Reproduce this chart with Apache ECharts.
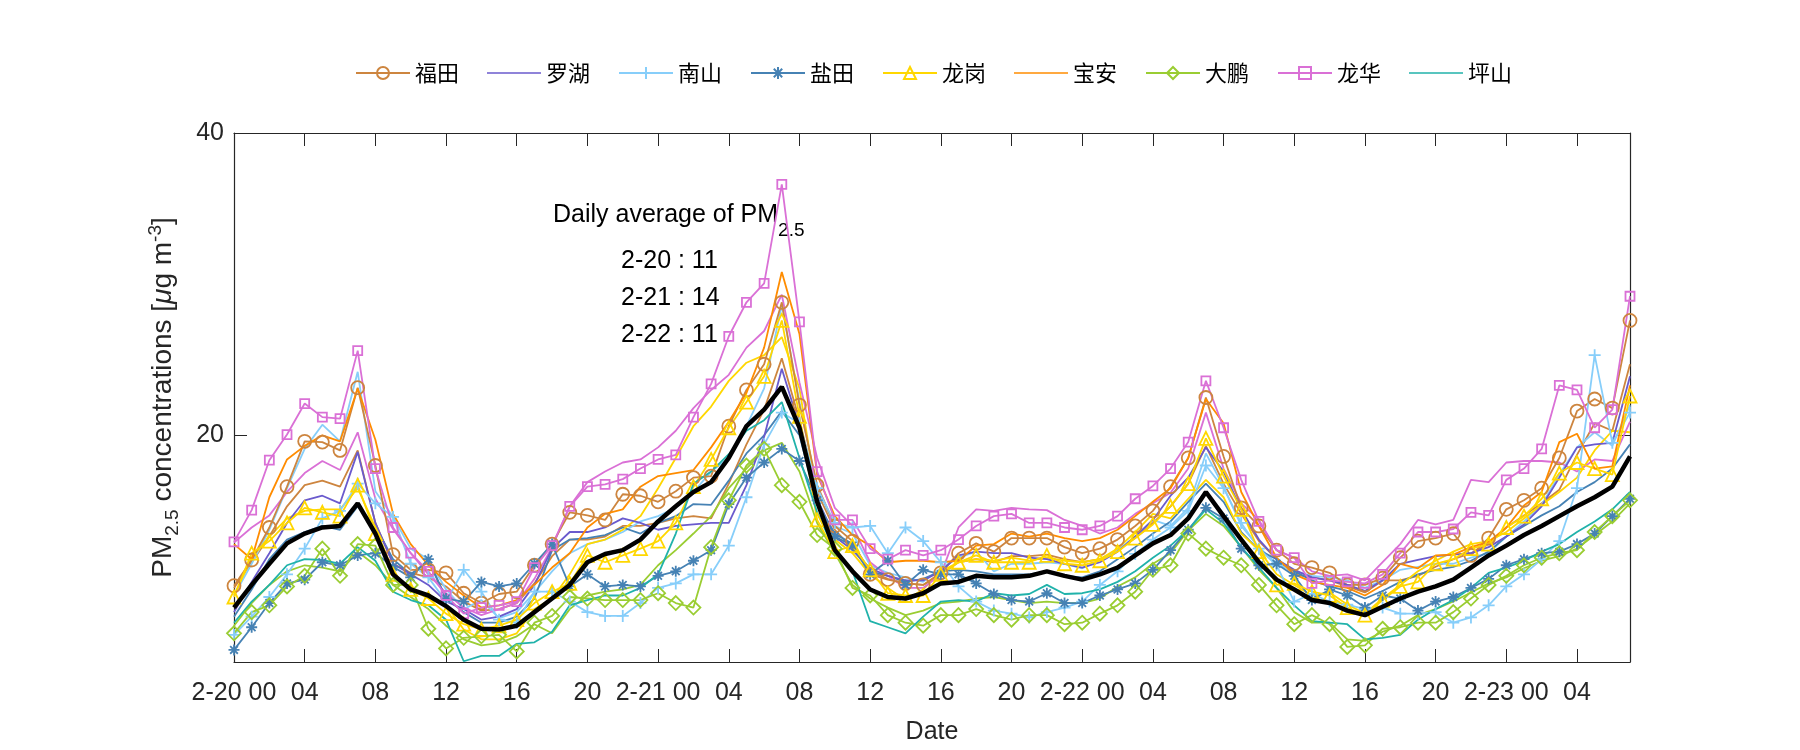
<!DOCTYPE html>
<html>
<head>
<meta charset="utf-8">
<script src="https://cdn.jsdelivr.net/npm/echarts@6/dist/echarts.min.js"></script>
<style>
html,body{margin:0;padding:0;background:#fff;}
#chart{width:1800px;height:750px;}
</style>
</head>
<body>
<div id="chart"></div>
<script>
// ---- categories / tick labels ----
const days = ['2-20', '2-21', '2-22', '2-23'];
const hoursPerDay = ['00','01','02','03','04','05','06','07','08','09','10','11','12','13','14','15','16','17','18','19','20','21','22','23'];
const nPoints = 80;
const yTicks = [20, 40];
const dailyDates = ['2-20', '2-21', '2-22'];
const dailyAvg = [11, 14, 11];

// ---- series values (hourly, 2-20 00 .. 2-23 07) ----
const futian = [10.05,11.75,13.9,16.6,19.6,19.55,19.0,23.15,18.0,12.1,11.1,11.1,10.9,9.55,8.9,9.5,9.65,11.4,12.8,14.9,14.7,14.4,16.1,16.0,15.6,16.3,17.2,17.3,20.6,23.0,24.7,28.8,22.0,16.7,14.0,13.0,10.8,10.45,10.2,10.1,10.9,12.2,12.85,12.3,13.2,13.2,13.2,12.6,12.2,12.5,13.1,14.0,15.0,16.6,18.5,22.5,18.6,15.2,14.0,12.4,11.5,11.25,10.9,10.1,10.1,10.55,11.9,13.0,13.2,13.5,12.05,13.2,15.1,15.7,16.5,18.5,21.6,22.4,21.8,27.6];
const futian2 = [9.9,11.6,13.3,15.3,16.7,17.0,16.6,19.0,14.2,11.5,10.9,10.6,10.0,9.0,8.4,8.5,8.9,10.2,12.0,13.1,13.1,13.3,14.0,14.0,14.2,14.5,14.65,14.5,16.8,19.4,21.7,25.1,21.0,16.25,13.75,12.5,11.0,10.5,10.2,10.1,10.8,11.6,11.8,11.6,12.0,12.0,12.1,11.8,11.6,11.8,12.4,13.2,14.2,15.3,16.8,19.3,16.8,14.8,13.0,11.8,10.8,10.6,10.4,10.0,9.6,10.4,10.4,10.7,11.3,11.8,12.2,12.8,13.9,14.7,15.5,16.4,18.7,20.8,20.3,24.7];
const luohu = [8.3,10.3,12.2,14.2,15.7,16.0,15.5,18.9,14.2,11.5,10.8,10.1,9.0,8.5,7.8,8.0,8.5,10.1,12.5,13.6,13.6,13.9,14.5,14.2,13.75,14.0,14.1,14.2,14.2,16.7,19.9,24.4,20.6,15.8,13.3,12.4,11.2,10.7,10.4,10.4,11.0,12.05,12.3,12.2,12.2,11.9,11.8,11.5,11.25,11.6,12.3,13.3,14.4,16.0,17.2,19.2,17.6,15.1,13.1,11.8,11.1,10.6,10.4,10.1,9.7,10.4,11.5,11.75,12.0,12.1,12.2,12.6,13.3,14.1,15.3,17.2,19.2,19.4,19.5,23.9];
const nanshan = [6.8,8.0,9.3,10.8,12.5,14.5,15.0,16.8,15.5,14.6,11.5,10.6,9.0,11.1,9.65,7.8,7.6,9.65,9.65,9.0,8.3,8.05,8.05,8.9,9.9,10.2,10.8,10.8,12.7,15.9,19.4,21.5,20.8,16.5,14.2,13.9,14.0,12.2,13.9,13.0,11.6,10.0,9.0,8.4,8.2,7.95,8.3,8.6,9.0,10.1,11.0,12.15,13.1,13.9,15.0,18.0,16.5,14.2,12.5,11.4,9.0,9.5,9.0,8.8,8.5,8.6,8.2,8.2,8.3,7.6,7.95,8.75,10.0,10.8,11.8,13.0,16.5,25.3,19.5,21.5];
const nanshan2 = [9.4,11.5,13.75,16.5,19.1,20.7,19.6,24.2,16.3,14.6,12.5,11.8,9.8,8.5,9.1,7.9,8.3,9.6,11.0,12.2,12.8,13.1,13.6,14.3,14.65,15.2,16.25,17.6,18.5,20.6,23.1,28.6,22.2,16.5,14.0,13.5,11.4,10.9,10.6,10.3,11.2,11.9,12.3,11.0,11.5,11.5,11.6,11.5,11.2,11.7,12.4,13.3,14.4,14.0,15.2,18.8,16.6,14.0,12.6,11.5,11.0,10.7,10.6,10.4,9.9,10.4,11.1,11.3,11.5,11.5,11.9,12.2,13.3,14.3,15.4,17.4,19.2,20.2,19.3,22.0];
const yantian = [5.8,7.3,8.9,10.2,10.45,11.6,11.4,12.05,12.2,11.3,10.6,11.8,9.2,9.0,10.3,10.0,10.2,11.5,12.8,10.0,10.8,10.0,10.1,10.0,10.7,11.0,11.7,12.4,15.45,17.2,18.2,19.1,18.3,15.7,13.3,12.7,10.8,11.7,10.1,11.1,10.8,10.8,10.2,9.5,9.1,9.0,9.55,8.9,8.9,9.4,9.8,10.2,11.1,12.4,13.75,15.2,14.5,12.5,11.4,11.5,10.7,9.1,9.8,9.4,8.6,9.4,9.2,8.4,9.0,9.3,9.9,10.5,11.4,11.8,12.2,12.3,12.8,13.5,14.65,15.8];
const yantian2 = [8.0,9.8,11.8,13.1,13.6,14.0,13.75,15.3,14.0,11.8,10.8,11.7,9.2,8.3,7.6,7.6,8.0,9.2,12.4,13.1,13.2,13.4,13.9,13.5,14.2,14.65,15.45,15.4,17.0,18.8,20.0,21.6,20.0,15.5,13.5,12.8,11.0,10.7,10.3,10.5,11.0,11.1,11.0,10.8,10.8,10.8,11.0,10.7,10.6,11.0,11.8,12.6,13.5,14.3,15.6,16.8,15.6,13.6,12.4,11.8,11.0,10.4,10.0,9.7,9.2,9.7,10.3,10.8,11.1,11.3,11.7,12.3,13.3,14.0,14.7,15.3,16.25,16.9,17.8,19.4];
const longgang = [9.3,12.2,13.0,14.2,15.2,14.9,14.65,16.7,13.5,10.8,9.8,9.2,8.2,7.5,7.15,7.4,7.8,8.9,9.65,10.2,12.05,11.6,12.05,12.5,13.0,14.2,16.6,18.4,20.5,22.2,23.9,27.6,21.25,14.4,12.3,12.7,11.1,9.55,9.4,9.4,10.8,11.6,12.05,11.6,11.6,11.6,12.05,11.5,11.4,11.7,12.3,13.2,14.1,15.3,16.8,19.8,17.3,15.1,12.3,10.1,10.2,9.65,9.4,8.6,8.1,9.1,10.0,10.3,11.5,11.8,12.5,12.8,13.9,14.65,15.8,17.5,18.2,17.8,17.4,22.6];
const longgang2 = [9.4,11.9,13.3,14.5,15.0,15.1,15.1,16.5,13.9,11.0,9.65,9.4,8.75,7.15,6.5,6.5,6.9,8.5,9.2,10.8,12.8,13.1,13.75,14.65,16.5,18.5,20.6,21.9,23.6,24.8,25.3,26.5,23.1,15.8,13.1,12.2,10.8,9.9,9.1,9.8,11.0,11.6,11.8,11.7,11.9,11.7,11.9,11.7,11.6,11.8,12.5,13.6,14.8,14.5,15.8,17.05,15.9,13.5,12.4,10.8,10.1,9.4,9.6,8.8,8.2,9.2,10.1,11.0,11.7,12.3,12.8,13.0,13.6,14.5,15.4,16.25,17.2,19.0,20.3,20.2];
const baoan = [12.8,11.8,15.9,18.4,19.3,20.0,19.6,23.1,19.7,14.8,12.8,11.4,10.3,9.4,8.6,8.75,9.1,10.1,11.25,12.2,13.9,14.8,15.1,16.6,17.3,17.5,17.7,19.2,20.9,22.8,25.8,30.8,26.7,17.4,14.65,13.4,12.7,11.6,11.7,11.7,11.6,11.7,12.7,12.8,13.5,13.3,13.5,13.2,13.0,13.2,13.75,14.65,15.6,16.5,18.5,22.4,20.8,16.25,14.0,11.9,10.8,10.3,10.1,9.9,9.4,10.1,11.5,11.2,12.05,12.1,12.6,12.95,13.9,15.35,16.25,19.55,20.1,17.8,17.95,23.3];
const dapeng = [6.9,8.3,8.75,10.0,10.7,12.5,10.7,12.8,12.7,10.1,10.1,7.2,5.9,6.6,6.7,6.8,5.7,7.6,8.05,9.3,9.2,9.1,9.1,9.1,9.55,8.9,8.6,12.6,15.7,18.0,19.1,16.7,15.6,13.4,12.5,9.9,9.4,8.1,7.6,7.4,8.1,8.1,8.5,8.1,7.8,8.1,8.1,7.5,7.6,8.2,8.75,9.65,11.1,11.4,13.5,12.5,11.9,11.4,10.1,8.75,7.5,8.1,7.5,6.0,6.1,7.2,7.3,7.6,7.6,8.3,9.2,10.1,10.7,11.4,11.9,12.2,12.4,13.6,14.65,15.7];
const dapeng2 = [7.4,8.9,10.1,11.0,11.4,11.25,11.0,12.3,11.4,10.1,9.3,8.5,7.4,6.5,6.1,6.25,6.7,7.5,6.9,8.5,9.4,9.65,9.8,10.1,11.4,12.4,13.5,14.65,16.5,17.8,19.0,19.5,17.6,14.2,12.2,10.1,9.2,8.6,8.1,8.4,8.9,9.0,9.2,9.3,9.1,8.9,9.0,8.9,8.9,9.2,10.0,10.6,11.5,12.2,13.7,14.8,14.0,12.6,11.1,9.9,8.3,7.6,7.6,6.5,6.4,7.0,7.4,8.1,8.5,9.0,9.6,10.2,10.6,11.2,11.7,12.0,12.5,13.4,14.3,15.5];
const longhua = [12.95,15.05,18.35,20.05,22.1,21.2,21.1,25.6,17.8,13.9,12.2,11.0,9.4,8.2,8.6,8.75,9.0,11.25,12.7,15.3,16.6,16.75,17.1,17.8,18.4,18.7,21.2,23.4,26.55,28.8,30.05,36.6,27.5,17.6,14.4,14.4,12.5,11.8,12.4,12.05,12.4,13.1,14.0,14.65,14.8,14.2,14.2,13.9,13.75,14.0,14.65,15.8,16.65,17.8,19.55,23.6,20.5,17.05,14.3,12.4,11.9,10.2,10.4,10.3,10.2,10.8,12.2,13.6,13.6,13.8,14.9,14.7,17.05,17.8,19.1,23.3,23.0,20.5,21.7,29.2];
const longhua2 = [12.9,13.9,14.7,16.25,17.5,18.3,17.7,20.2,15.8,13.8,12.2,10.8,9.55,8.6,8.1,8.5,8.9,10.5,12.6,15.3,16.9,17.6,18.2,18.4,19.2,20.3,21.8,23.0,24.0,25.8,26.9,29.3,23.5,18.5,15.2,14.0,11.6,10.7,9.9,9.9,10.8,13.9,15.1,15.0,15.2,15.1,15.05,14.4,14.0,13.5,13.9,14.8,15.5,16.2,17.8,21.5,17.8,15.5,14.4,12.4,11.9,11.0,10.7,10.8,10.4,11.6,12.8,14.4,14.1,14.4,17.05,16.9,18.2,18.3,18.3,18.2,17.6,18.4,18.3,20.9];
const pingshan = [7.6,9.0,10.1,11.4,11.8,11.75,11.5,12.6,11.7,9.65,9.1,8.75,7.8,5.05,5.4,5.4,6.2,6.3,7.0,8.75,9.1,9.4,9.4,9.9,10.8,13.5,16.8,17.6,18.75,20.3,21.0,22.2,18.5,14.9,12.4,11.0,7.7,7.3,6.9,8.0,9.0,9.1,9.0,9.55,9.4,9.5,10.1,9.5,9.55,9.8,10.3,11.0,11.9,12.7,13.75,15.1,14.2,12.6,11.25,9.9,8.75,7.7,7.6,7.5,6.5,6.6,6.8,7.8,8.5,9.1,9.9,10.9,11.25,11.7,12.3,12.8,13.6,14.3,15.1,16.25];
const meanAll = [8.6,10.1,11.5,12.85,13.5,13.9,14.0,15.5,13.5,10.8,9.8,9.4,8.7,7.8,7.2,7.15,7.4,8.3,9.2,10.1,11.6,12.15,12.4,13.1,14.3,15.3,16.25,16.9,18.5,20.6,21.7,23.2,20.5,15.6,12.4,11.0,9.8,9.3,9.2,9.55,10.2,10.3,10.7,10.6,10.6,10.7,11.0,10.7,10.45,10.8,11.25,12.05,12.85,13.4,14.5,16.25,14.65,13.1,11.6,10.45,9.8,9.1,8.9,8.4,8.1,8.65,9.2,9.65,10.0,10.45,11.25,12.05,12.7,13.4,14.0,14.65,15.3,15.9,16.6,18.6];

const names = ['福田', '罗湖', '南山', '盐田', '龙岗', '宝安', '大鹏', '龙华', '坪山'];
const plainNames = ['罗湖', '宝安', '坪山'];
const colors = {
  '福田': '#CD853F', '罗湖': '#6A5ACD', '南山': '#87CEFA', '盐田': '#4682B4', '龙岗': '#FFD700',
  '宝安': '#FF8C00', '大鹏': '#9ACD32', '龙华': '#DA70D6', '坪山': '#20B2AA'
};

const FONT = 'Liberation Sans, Arial, sans-serif';
const CJK = 'Noto Sans CJK SC, sans-serif';

const categories = [];
for (let i = 0; i < nPoints; i++) {
  const d = days[Math.floor(i / 24)];
  categories.push(d + ' ' + hoursPerDay[i % 24]);
}

const PLUS = 'path://M0,5L10,5M5,0L5,10';
const STAR = 'path://M0,5L10,5M5,0L5,10M1.5,1.5L8.5,8.5M1.5,8.5L8.5,1.5';
const LINE_ICON = 'path://M0,0H100V3H0Z';

function lineSeries(name, data, color, symbol, size, opts) {
  opts = opts || {};
  const hasSym = !!symbol;
  return {
    type: 'line', name: name, data: data,
    xAxisIndex: 0, yAxisIndex: 0,
    symbol: symbol || 'none', symbolSize: size || 0,
    showSymbol: hasSym, showAllSymbol: true,
    lineStyle: { color: color, width: opts.width || 1.8 },
    itemStyle: hasSym
      ? { color: 'rgba(255,255,255,0)', borderColor: color, borderWidth: 1.8 }
      : { color: color, borderWidth: 0 },
    emphasis: { disabled: true },
    z: opts.z || 2,
    silent: true
  };
}

const series = [
  // companion lines of the same colour (not in legend)
  lineSeries('福田 b', futian2, colors['福田']),
  lineSeries('南山 b', nanshan2, colors['南山']),
  lineSeries('盐田 b', yantian2, colors['盐田']),
  lineSeries('龙岗 b', longgang2, colors['龙岗']),
  lineSeries('大鹏 b', dapeng2, colors['大鹏']),
  lineSeries('龙华 b', longhua2, colors['龙华']),
  // legend lines
  lineSeries('福田', futian, colors['福田'], 'circle', 13),
  lineSeries('罗湖', luohu, colors['罗湖']),
  lineSeries('南山', nanshan, colors['南山'], PLUS, 12),
  lineSeries('盐田', yantian, colors['盐田'], STAR, 11),
  lineSeries('龙岗', longgang, colors['龙岗'], 'triangle', 13),
  lineSeries('宝安', baoan, colors['宝安']),
  lineSeries('大鹏', dapeng, colors['大鹏'], 'diamond', 14),
  lineSeries('龙华', longhua, colors['龙华'], 'rect', 9),
  lineSeries('坪山', pingshan, colors['坪山']),
  lineSeries('mean', meanAll, '#000000', null, 0, { width: 4.5, z: 3 })
];

const axisColor = '#262626';

const option = {
  animation: false,
  backgroundColor: '#ffffff',
  textStyle: { fontFamily: FONT },
  grid: { left: 234, right: 170, top: 133, bottom: 88, containLabel: false },
  legend: {
    data: names.map((n) => (plainNames.indexOf(n) >= 0 ? { name: n, icon: LINE_ICON } : { name: n })),
    top: 57,
    left: 350,
    itemWidth: 54,
    itemHeight: 15,
    itemGap: 28,
    textStyle: { fontFamily: CJK, fontSize: 22, color: '#000' },
    selectedMode: false
  },
  xAxis: [
    {
      type: 'category', data: categories, boundaryGap: false, position: 'bottom',
      axisLine: { lineStyle: { color: axisColor, width: 1.2 } },
      axisTick: { inside: true, length: 13, interval: (i) => i % 4 === 0, lineStyle: { color: axisColor } },
      axisLabel: {
        interval: (i) => i % 4 === 0,
        margin: 19,
        fontSize: 25, color: axisColor, fontFamily: FONT,
        formatter: (v) => (v.slice(-2) === '00' ? v : v.slice(-2))
      },
      name: 'Date', nameLocation: 'middle', nameGap: 58,
      nameTextStyle: { fontSize: 25, color: axisColor, fontFamily: FONT },
      splitLine: { show: false }
    },
    {
      type: 'category', data: categories, boundaryGap: false, position: 'top',
      axisLine: { lineStyle: { color: axisColor, width: 1.2 } },
      axisTick: { inside: true, length: 13, interval: (i) => i % 4 === 0, lineStyle: { color: axisColor } },
      axisLabel: { show: false },
      splitLine: { show: false }
    }
  ],
  yAxis: [
    {
      type: 'value', min: 5, max: 40, position: 'left',
      axisLine: { show: true, lineStyle: { color: axisColor, width: 1.2 } },
      axisTick: { show: true, inside: true, length: 13, customValues: yTicks, lineStyle: { color: axisColor } },
      axisLabel: { customValues: yTicks, margin: 10, fontSize: 25, color: axisColor, fontFamily: FONT },
      splitLine: { show: false },
      name: '{a|PM}{s|2.5}{a| concentrations [}{m|μ}{a|g m}{p|-3}{a|]}',
      nameLocation: 'middle', nameGap: 52, nameRotate: 90,
      nameTextStyle: {
        color: axisColor, fontFamily: FONT,
        rich: {
          a: { fontSize: 28, color: axisColor, fontFamily: FONT },
          m: { fontSize: 28, color: axisColor, fontFamily: FONT, fontStyle: 'italic' },
          s: { fontSize: 19, color: axisColor, fontFamily: FONT, padding: [18, 0, 0, 0] },
          p: { fontSize: 19, color: axisColor, fontFamily: FONT, padding: [0, 0, 16, 0] }
        }
      }
    },
    {
      type: 'value', min: 5, max: 40, position: 'right',
      axisLine: { show: true, lineStyle: { color: axisColor, width: 1.2 } },
      axisTick: { show: true, inside: true, length: 13, customValues: yTicks, lineStyle: { color: axisColor } },
      axisLabel: { show: false },
      splitLine: { show: false }
    }
  ],
  graphic: [
    {
      type: 'text', left: 553, top: 203, silent: true,
      style: {
        text: '{a|Daily average of PM}{s|2.5}',
        rich: {
          a: { fontSize: 25, fill: '#000', fontFamily: FONT },
          s: { fontSize: 19, fill: '#000', fontFamily: FONT, padding: [30, 0, 0, 0] }
        }
      }
    }
  ].concat(dailyDates.map((d, i) => ({
    type: 'text', left: 621, top: 249 + i * 37, silent: true,
    style: { text: d + ' : ' + dailyAvg[i], fontSize: 25, fill: '#000', fontFamily: FONT }
  }))),
  series: series
};

const chart = echarts.init(document.getElementById('chart'), null, { renderer: 'canvas' });
chart.setOption(option);
</script>
</body>
</html>
